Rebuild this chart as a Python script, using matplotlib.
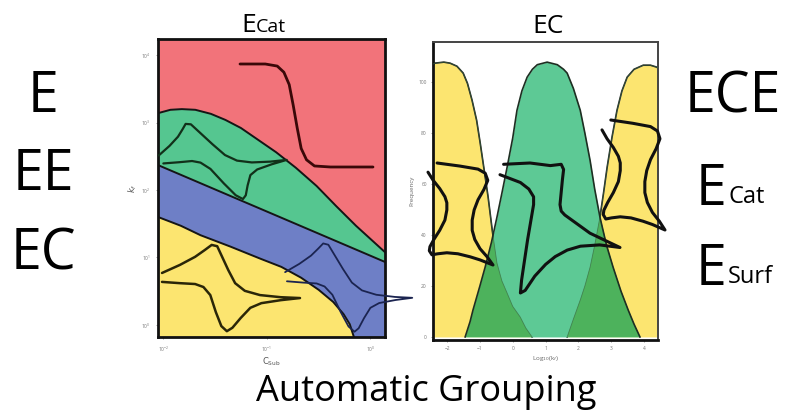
import numpy as np
import matplotlib.pyplot as plt

plt.rcParams['font.family'] = ['Open Sans', 'DejaVu Sans']

# ---- left panel: regime map, log10 units ----
green_top_x = [-2.05, -1.93, -1.82, -1.69, -1.54, -1.40, -1.25, -1.08, -0.91, -0.72, -0.52, -0.33, -0.14, 0.01, 0.16]
green_top_y = [3.14, 3.19, 3.20, 3.19, 3.13, 3.04, 2.92, 2.74, 2.56, 2.33, 2.06, 1.76, 1.47, 1.26, 1.05]
blue_top_x = [-2.05, 0.16]
blue_top_y = [2.37, 0.92]
yellow_top_x = [-2.05, -1.83, -1.64, -1.35, -1.06, -0.86, -0.67, -0.50, -0.36, -0.26, -0.20, -0.16, -0.14]
yellow_top_y = [1.60, 1.47, 1.33, 1.16, 0.98, 0.86, 0.70, 0.52, 0.34, 0.16, 0.01, -0.18, -0.30]
csub_ticks = [-2, -1, 0]
kf_ticks = [0, 1, 2, 3, 4]

# ---- right panel: frequency of log10(kf) per group ----
left_bell_x = [-2.6, -2.37, -2.1, -1.91, -1.7, -1.51, -1.38, -1.24, -1.1, -0.99, -0.87, -0.75,
               -0.62, -0.48, -0.33, -0.17, 0.0, 0.23, 0.4, 0.59]
left_bell_y = [106, 107.4, 107.8, 107.4, 106.2, 103.5, 99.5, 92.9, 85, 76, 65.5, 54.9,
               41.5, 29, 22, 17.2, 12, 7.8, 3.5, 0]
mid_bell_x = [-1.45, -1.3, -1.21, -1.0, -0.84, -0.65, -0.48, -0.32, -0.17, 0.0, 0.13, 0.28, 0.44, 0.6,
              0.75, 1.05, 1.36, 1.55, 1.66, 1.85, 2.06, 2.2, 2.36, 2.5, 2.66, 2.86, 3.06, 3.3, 3.52, 3.7, 3.88]
mid_bell_y = [0, 6, 10.6, 20, 27.4, 37, 47, 57, 66.6, 78, 88.9, 96.5, 101.9, 105,
              106.8, 107.8, 106.8, 105, 103.5, 97.5, 88.9, 80, 69.2, 58, 47, 36, 27.4, 18, 10.6, 5, 0]
right_bell_x = [1.66, 1.85, 2.06, 2.2, 2.36, 2.5, 2.66, 2.77, 2.88, 3.03, 3.18, 3.33, 3.49, 3.7,
                3.98, 4.2, 4.40, 4.6]
right_bell_y = [0, 7, 14.5, 20, 27.4, 36, 47, 56.5, 66.6, 78.5, 88.9, 96.5, 101.9, 105,
                106.6, 106.6, 105.8, 103]
logk_ticks = [-2, -1, 0, 1, 2, 3, 4]
freq_ticks = [0, 20, 40, 60, 80, 100]

# ---- sketch traces (unit shapes) ----
# reversible CV: forward branch then return branch, meeting at the switching tip
cv_u = [0, 0.13, 0.24, 0.31, 0.36, 0.40, 0.43, 0.48, 0.53, 0.60, 0.71, 0.86, 1.0,
        0.86, 0.72, 0.64, 0.57, 0.51, 0.47, 0.43, 0.39, 0.35, 0.30, 0.24, 0.13, 0]
cv_v = [0.33, 0.52, 0.71, 0.87, 0.99, 0.96, 0.75, 0.40, 0.09, -0.09, -0.19, -0.24, -0.26,
        -0.31, -0.38, -0.49, -0.73, -0.96, -1.04, -0.92, -0.59, -0.19, 0, 0.07, 0.09, 0.12]
# catalytic plateau wave
sig_u = [0, 0.19, 0.28, 0.33, 0.37, 0.40, 0.43, 0.46, 0.50, 0.56, 0.68, 1.0]
sig_v = [0, 0, 0.02, 0.08, 0.20, 0.40, 0.62, 0.82, 0.93, 0.99, 1.0, 1.0]
# CV drawn with potential running downwards (pinched loop)
pinch_u = [0.14, 0.49, 0.77, 0.88, 0.92, 0.86, 0.77, 0.71, 0.68, 0.68, 0.72, 0.80, 0.91, 1.0,
           0.80, 0.65, 0.46, 0.29, 0.15, 0.06, 0.02, 0.03, 0.09, 0.18, 0.26, 0.29, 0.29, 0.26,
           0.18, 0.08, 0.0]
pinch_v = [0, 0.03, 0.06, 0.10, 0.17, 0.26, 0.36, 0.46, 0.56, 0.66, 0.75, 0.84, 0.92, 1.0,
           0.95, 0.92, 0.89, 0.88, 0.89, 0.90, 0.86, 0.82, 0.75, 0.66, 0.56, 0.46, 0.39, 0.33,
           0.25, 0.17, 0.09]
# sharp EC trace
sharp_u = [0.03, 0.25, 0.42, 0.51, 0.53, 0.52, 0.50, 0.51, 0.54, 0.63, 0.75, 1.0, 0.83, 0.67,
           0.56, 0.46, 0.38, 0.29, 0.21, 0.17, 0.18, 0.23, 0.28, 0.28, 0.24, 0.17, 0.0]
sharp_v = [0.01, 0, 0.02, 0.01, 0.05, 0.13, 0.32, 0.37, 0.40, 0.46, 0.54, 0.65, 0.63, 0.64,
           0.67, 0.72, 0.78, 0.87, 0.98, 1.0, 0.90, 0.59, 0.32, 0.26, 0.20, 0.15, 0.09]

RED = '#F2737A'
GREEN = '#55C690'
BLUE = '#6E7FC6'
YELLOW = '#FCE570'
GREEN2 = '#5DC995'
OVERLAP = '#4DB25C'


def place(u, v, origin, a, b):
    u = np.asarray(u)
    v = np.asarray(v)
    return origin[0] + u * a[0] + v * b[0], origin[1] + u * a[1] + v * b[1]


def p10(vals):
    return 10.0 ** np.asarray(vals)


fig = plt.figure(figsize=(7.9, 4.17), dpi=100)

# left panel
ax1 = fig.add_axes([158 / 790, 1 - 337 / 417, 227 / 790, 298 / 417])
ax1.set_xscale('log')
ax1.set_yscale('log')
ax1.set_xlim(10 ** -2.05, 10 ** 0.14)
ax1.set_ylim(10 ** -0.18, 10 ** 4.24)
ax1.set_facecolor(RED)
ylo = 10 ** -0.5
ax1.fill_between(p10(green_top_x), p10(green_top_y), ylo, color=GREEN, lw=0)
ax1.fill_between(p10(blue_top_x), p10(blue_top_y), ylo, color=BLUE, lw=0)
ax1.fill_between(p10(yellow_top_x), p10(yellow_top_y), ylo, color=YELLOW, lw=0)
for xs, ys in [(green_top_x, green_top_y), (blue_top_x, blue_top_y), (yellow_top_x, yellow_top_y)]:
    ax1.plot(p10(xs), p10(ys), color='#151515', lw=1.4)
ax1.set_xticks(p10(csub_ticks))
ax1.set_yticks(p10(kf_ticks))
ax1.minorticks_off()
ax1.tick_params(labelsize=3.5, labelcolor='#777777', length=1.5, width=0.5, color='#777777', pad=4)
ax1.set_xlabel('C$_{\\rm Sub}$', fontsize=6, color='#555555', labelpad=1, family='DejaVu Sans')
ax1.set_ylabel('$k_f$', fontsize=6, color='#555555', labelpad=1)
for s in ax1.spines.values():
    s.set_linewidth(2)
    s.set_color('#111111')

# right panel
ax2 = fig.add_axes([433 / 790, 1 - 340 / 417, 225 / 790, 298 / 417])
ax2.set_xlim(-2.43, 4.43)
ax2.set_ylim(-1.2, 115.7)
lb = ax2.fill_between(left_bell_x, left_bell_y, 0, color=YELLOW, lw=0, zorder=1)
rb = ax2.fill_between(right_bell_x, right_bell_y, 0, color=YELLOW, lw=0, zorder=1)
ax2.plot(left_bell_x, left_bell_y, color='#222222', lw=1.2, zorder=1.5)
ax2.plot(right_bell_x, right_bell_y, color='#222222', lw=1.2, zorder=1.5)
ax2.fill_between(mid_bell_x, mid_bell_y, 0, color=GREEN2, lw=0, zorder=2)
for bell in (lb, rb):
    ovl = ax2.fill_between(mid_bell_x, mid_bell_y, 0, color=OVERLAP, lw=0, zorder=3)
    ovl.set_clip_path(bell.get_paths()[0], ax2.transData)
for xs, ys in [(left_bell_x, left_bell_y), (right_bell_x, right_bell_y)]:
    ax2.plot(xs, ys, color='#3a6a40', lw=0.6, zorder=3.6, alpha=0.7)
ax2.plot(mid_bell_x, mid_bell_y, color='#1e2e22', lw=1.2, zorder=4)
ax2.set_xticks(logk_ticks)
ax2.set_yticks(freq_ticks)
ax2.tick_params(labelsize=3.5, labelcolor='#777777', length=1.5, width=0.5, color='#777777', pad=3)
ax2.set_xlabel('Log$_{10}$(k$_f$)', fontsize=4.5, color='#666666', labelpad=2)
ax2.set_ylabel('Frequency', fontsize=4.5, color='#666666', labelpad=3)
for name, s in ax2.spines.items():
    s.set_linewidth(2 if name in ('left', 'bottom') else 1.4)
    s.set_color('#111111' if name in ('left', 'bottom') else '#444444')

# overlay in figure pixels for the sketched traces and labels
ov = fig.add_axes([0, 0, 1, 1], zorder=10)
ov.set_xlim(0, 790)
ov.set_ylim(417, 0)
ov.axis('off')
ov.patch.set_alpha(0)

traces = [
    (sig_u, sig_v, (240, 64), (133, 0), (0, 103), '#3a0808', 2.0),
    (cv_u, cv_v, (166, 168), (115, -18), (-22, -38), '#12301a', 1.6),
    (cv_u, cv_v, (162, 287), (138, 0), (0, -42.5), '#2a2608', 1.8),
    (cv_u, cv_v, (288, 286.5), (122, 0), (-8.8, -43.5), '#1b2450', 1.3),
    (pinch_u, pinch_v, (428, 163), (65, 0), (0, 102), '#111111', 2.2),
    (sharp_u, sharp_v, (500, 163), (120, 0), (0, 130), '#111111', 2.2),
    (pinch_u, pinch_v, (602, 120), (63, 0), (0, 110), '#111111', 2.2),
]
for u, v, o, a, b, c, lw in traces:
    x, y = place(u, v, o, a, b)
    ov.plot(x, y, color=c, lw=lw, solid_capstyle='round', solid_joinstyle='round')

ov.text(256, 32, 'E', fontsize=19, ha='right', va='baseline')
ov.text(256, 32, 'Cat', fontsize=14, ha='left', va='baseline')
ov.text(548, 33, 'EC', fontsize=19, ha='center', va='baseline')

for label, y in [('E', 112), ('EE', 190), ('EC', 270)]:
    ov.text(43, y, label, fontsize=40, ha='center', va='baseline')
ov.text(733, 112, 'ECE', fontsize=40, ha='center', va='baseline')
ov.text(726, 205, 'E', fontsize=40, ha='right', va='baseline')
ov.text(728, 203, 'Cat', fontsize=17, ha='left', va='baseline')
ov.text(726, 285, 'E', fontsize=40, ha='right', va='baseline')
ov.text(728, 283, 'Surf', fontsize=17, ha='left', va='baseline')
ov.text(426, 401, 'Automatic Grouping', fontsize=26, ha='center', va='baseline')

fig.savefig('out.png', dpi=100)
